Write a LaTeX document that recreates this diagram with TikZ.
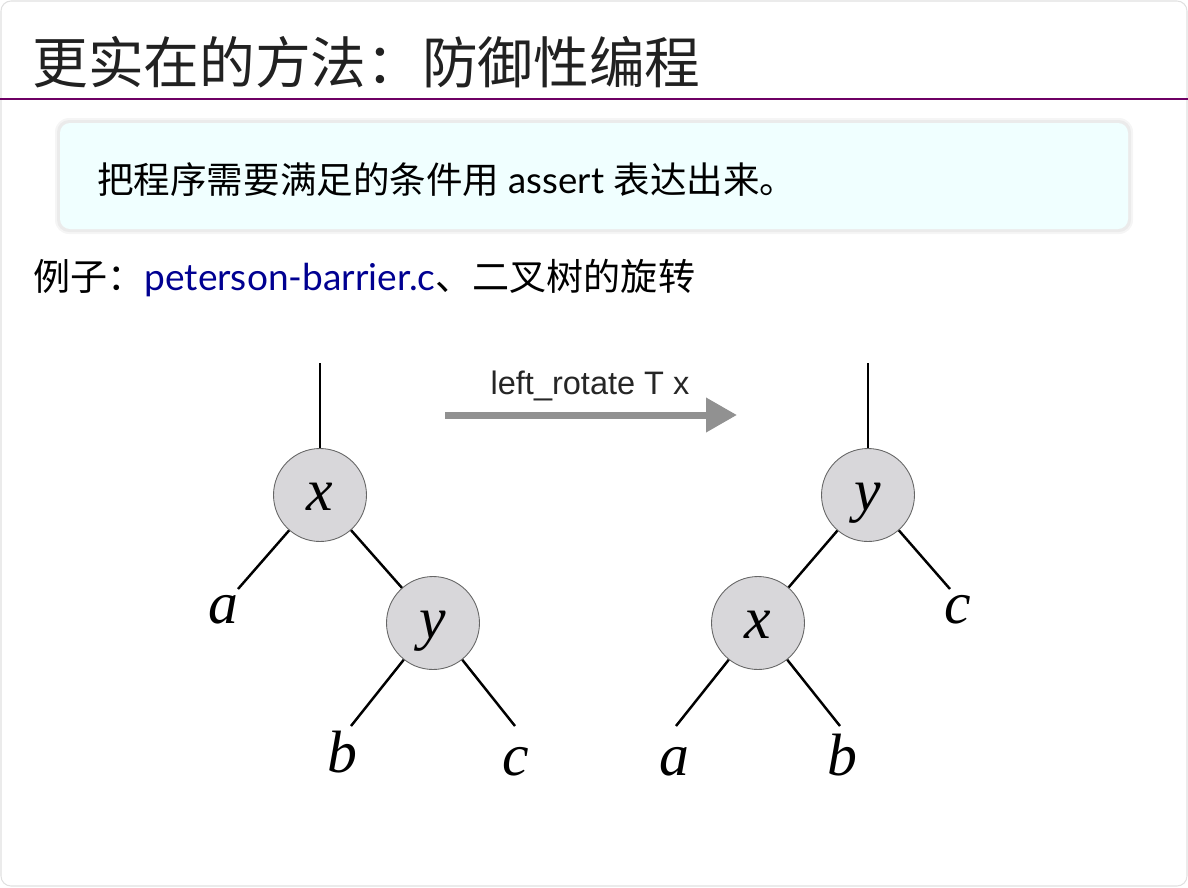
\documentclass[tikz,border=0pt]{standalone}
\usepackage{fontspec}
\setmainfont{Lato}
\newfontfamily\cjk{Noto Sans CJK SC}
\newfontfamily\helv{Liberation Sans}
\newfontfamily\treefont{Liberation Serif}
\usetikzlibrary{arrows.meta,positioning}

\definecolor{titlepurple}{RGB}{110,0,100}
\definecolor{notecyan}{RGB}{240,255,255}
\definecolor{linkblue}{RGB}{0,0,145}
\definecolor{nodegray}{RGB}{216,215,218}
\definecolor{arrowgray}{RGB}{145,145,145}

\tikzset{
	treenode/.style	= {circle, draw=black!60, line width=0.5pt, fill=nodegray,
				minimum size=1.86cm, inner sep=0pt, text height=18pt, text depth=0pt,
				font=\treefont\itshape\fontsize{34}{34}\selectfont},
	leaf/.style	= {inner sep=0pt, font=\treefont\itshape\fontsize{34}{34}\selectfont},
	branch/.style	= {line width=1.4pt, black},
}

\begin{document}
\begin{tikzpicture}[x=0.02cm, y=-0.02cm]
	\useasboundingbox (0,0) rectangle (1188,887);
	\draw [black!12, line width=0.6pt, rounded corners=0.2cm] (1,1) rectangle (1187,886);

	% title
	\node	(title)	[anchor=west, inner sep=0pt, text=black!87]	at (32,62)
		{\cjk\fontsize{31.7}{36}\selectfont 更实在的方法：防御性编程};
	\draw [titlepurple, line width=1.2pt] (0,99) -- (1188,99);

	% note box
	\fill [black, opacity=0.04, rounded corners=0.28cm] (55,118) rectangle (1133,234);
	\fill [black, opacity=0.04, rounded corners=0.24cm] (57,120) rectangle (1131,232);
	\fill [notecyan, rounded corners=0.2cm] (60,123) rectangle (1128,229);
	\node	(note)	[anchor=west, inner sep=0pt]	at (97,180)
		{\fontsize{20.8}{24}\selectfont\cjk 把程序需要满足的条件用\normalfont{} assert \cjk 表达出来。};

	% example line
	\node	(ex)	[anchor=west, inner sep=0pt]	at (33,278)
		{\fontsize{21.1}{24}\selectfont{\cjk 例子：}\textcolor{linkblue}{peterson-barrier.c}{\cjk 、二叉树的旋转}};

	% rotation arrow
	\coordinate	(rs)	at (445,415);
	\coordinate	(re)	at (737,415);
	\draw [arrowgray, line width=0.14cm, -{Triangle[length=0.62cm, width=0.66cm]}] (rs) -- (re);
	\node	(rot)	[text=black!85]	at (590,386)	{\helv\fontsize{18.5}{20}\selectfont left\_rotate T x};

	% tree before
	\coordinate	(top1)	at (320,363);
	\node	(x1)	[treenode]	at (320,495)	{x};
	\node	(y1)	[treenode]	at (433,623)	{y};
	\coordinate	(ea1)	at (238,589);
	\coordinate	(eb1)	at (351,726);
	\coordinate	(ec1)	at (515,726);
	\node	(a1)	[leaf]	at (223,610)	{a};
	\node	(b1)	[leaf]	at (342,752)	{b};
	\node	(c1)	[leaf]	at (516,762)	{c};

	% tree after
	\coordinate	(top2)	at (868,363);
	\node	(y2)	[treenode]	at (868,495)	{y};
	\node	(x2)	[treenode]	at (758,623)	{x};
	\coordinate	(ec2)	at (950,589);
	\coordinate	(ea2)	at (676,726);
	\coordinate	(eb2)	at (840,726);
	\node	(c2)	[leaf]	at (958,610)	{c};
	\node	(a2)	[leaf]	at (674,762)	{a};
	\node	(b2)	[leaf]	at (842,755)	{b};

	\path [branch]
	(top1)	edge	(x1)
	(x1)	edge	(ea1)
		edge	(y1)
	(y1)	edge	(eb1)
		edge	(ec1)
	(top2)	edge	(y2)
	(y2)	edge	(x2)
		edge	(ec2)
	(x2)	edge	(ea2)
		edge	(eb2)
	;
\end{tikzpicture}
\end{document}
